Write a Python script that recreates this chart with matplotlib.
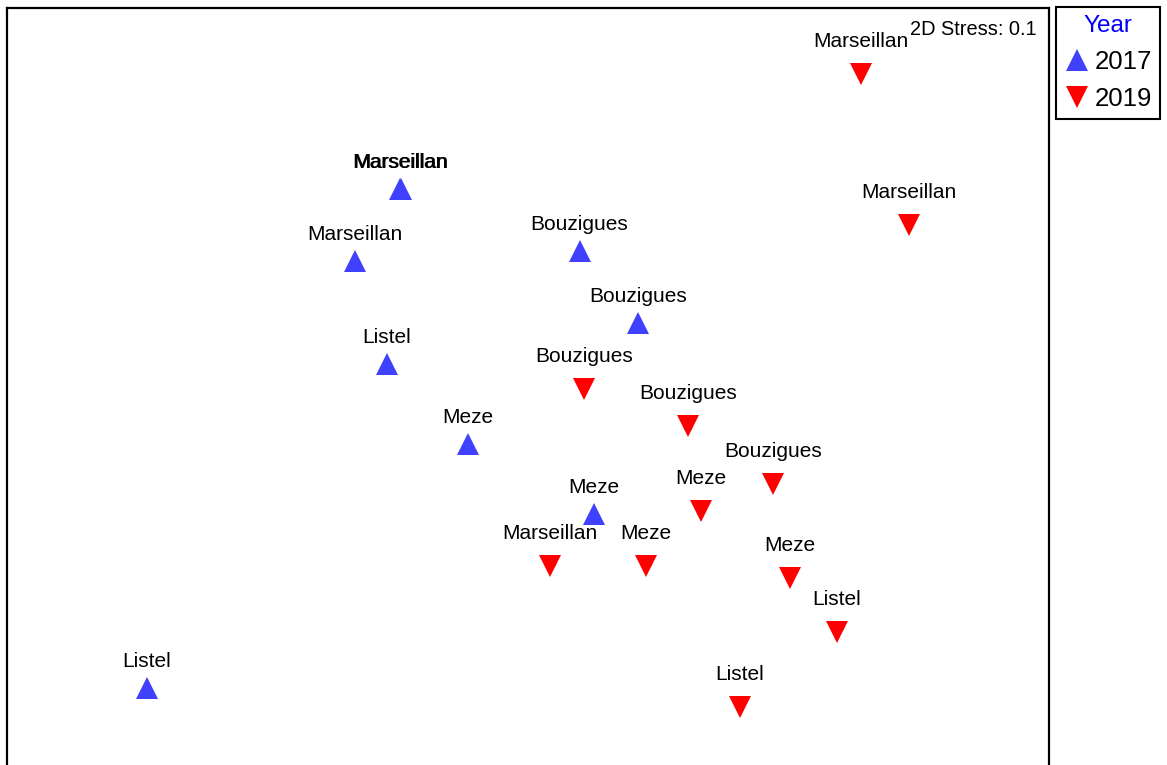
import matplotlib
matplotlib.use("Agg")
import matplotlib.pyplot as plt
from matplotlib.lines import Line2D

plt.rcParams['font.family'] = ['Liberation Sans', 'DejaVu Sans']

# NMDS ordination scores (axis 1, axis 2) per sample
sites_2017 = ["Marseillan", "Marseillan", "Marseillan", "Bouzigues", "Bouzigues",
              "Listel", "Meze", "Meze", "Listel"]
x_2017 = [-0.639, -0.634, -0.865, 0.258, 0.550, -0.705, -0.300, 0.330, -1.905]
y_2017 = [1.055, 1.053, 0.695, 0.743, 0.385, 0.180, -0.220, -0.568, -1.440]

sites_2019 = ["Marseillan", "Marseillan", "Bouzigues", "Bouzigues", "Bouzigues",
              "Meze", "Marseillan", "Meze", "Meze", "Listel", "Listel"]
x_2019 = [1.665, 1.905, 0.280, 0.800, 1.225, 0.865, 0.108, 0.588, 1.310, 1.545, 1.060]
y_2019 = [1.630, 0.875, 0.055, -0.130, -0.420, -0.555, -0.830, -0.830, -0.890, -1.160, -1.535]

years = ["2017", "2019"]
stress_text = "2D Stress: 0.1"

W, H = 1167, 765
fig = plt.figure(figsize=(W / 100, H / 100), dpi=100)
ax = fig.add_axes([7 / W, 1 - 775 / H, (1049 - 7) / W, (775 - 8) / H])
ax.set_xlim(-2.605, 2.605)
ax.set_ylim(-1.875, 1.96)
ax.set_xticks([])
ax.set_yticks([])
for s in ax.spines.values():
    s.set_linewidth(1.6)
    s.set_color('black')

blue = '#4040FF'
red = '#FF0000'
ms = 16.5

ax.plot(x_2017, y_2017, linestyle='none', marker='^', ms=ms, color=blue,
        markeredgewidth=0, zorder=3)
ax.plot(x_2019, y_2019, linestyle='none', marker='v', ms=ms, color=red,
        markeredgewidth=0, zorder=3)

for name, x, y in zip(sites_2017, x_2017, y_2017):
    ax.annotate(name, (x, y), xytext=(0, 15.1), textcoords='offset points',
                ha='center', va='baseline', fontsize=15, color='black')
for name, x, y in zip(sites_2019, x_2019, y_2019):
    ax.annotate(name, (x, y), xytext=(0, 19.4), textcoords='offset points',
                ha='center', va='baseline', fontsize=15, color='black')

ax.text(0.9885, 0.9648, stress_text, transform=ax.transAxes, ha='right',
        va='baseline', fontsize=14.4, color='black')

handles = [Line2D([], [], linestyle='none', marker='^', ms=ms, color=blue, markeredgewidth=0),
           Line2D([], [], linestyle='none', marker='v', ms=ms, color=red, markeredgewidth=0)]
leg = fig.legend(handles, years, title="Year", loc='upper left',
                 bbox_to_anchor=(1056 / W, 1 - 7 / H), borderaxespad=0,
                 fontsize=18.5, title_fontsize=17.5, fancybox=False, framealpha=1,
                 edgecolor='black', borderpad=0.3, handlelength=1.0,
                 handletextpad=0.2, labelspacing=0.52)
leg.get_frame().set_linewidth(1.5)
leg.get_title().set_color('blue')

fig.savefig("out.png", dpi=100, facecolor='white')
